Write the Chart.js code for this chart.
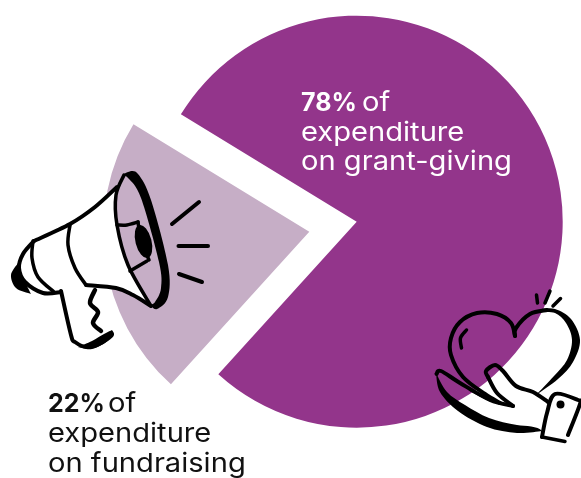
<!DOCTYPE html>
<html>
<head>
<meta charset="utf-8">
<style>
  html, body { margin: 0; padding: 0; background: #fff; }
  canvas { display: block; }
</style>
</head>
<body>
<canvas id="chart" width="581" height="478"></canvas>
<script src="https://cdn.jsdelivr.net/npm/chart.js@4"></script>
<script>
// ---------- data ----------
const categories = ["Fundraising", "Grant-giving"];
const shares = [22, 78];
const sliceColours = ["#C6AEC6", "#93358B"];

// how far the small slice is pulled out of the pie, px
const pullX = -47.4;
const pullY = 10;

// ---------- captions ----------
const FONT = "Inter";
const SIZE = 26;
const PCT_SIZE = 25;
const WIDEN = 1.12;
const captions = [
  { x: 301, y: 111, colour: "#fff", pct: "78%", rest: "of", ofX: 362, lines: ["expenditure", "on grant-giving"], lineGap: 29.5 },
  { x: 48, y: 412, colour: "#111", pct: "22%", rest: "of", ofX: 108, lines: ["expenditure", "on fundraising"], lineGap: 30.2 }
];

// smooth line through a list of [x, y]
function spline(ctx, pts, move = true) {
  if (move) ctx.moveTo(pts[0][0], pts[0][1]);
  for (let i = 0; i < pts.length - 1; i++) {
    const p0 = pts[i - 1] || pts[i], p1 = pts[i], p2 = pts[i + 1], p3 = pts[i + 2] || p2;
    ctx.bezierCurveTo(
      p1[0] + (p2[0] - p0[0]) / 6, p1[1] + (p2[1] - p0[1]) / 6,
      p2[0] - (p3[0] - p1[0]) / 6, p2[1] - (p3[1] - p1[1]) / 6,
      p2[0], p2[1]
    );
  }
}

function line(ctx, pts, width) {
  ctx.beginPath();
  spline(ctx, pts);
  ctx.lineWidth = width;
  ctx.stroke();
}

function blob(ctx, a, b) {
  ctx.beginPath();
  spline(ctx, a);
  spline(ctx, b.slice().reverse(), false);
  ctx.closePath();
  ctx.fill();
}

// ---------- megaphone ----------
function drawMegaphone(ctx) {
  ctx.save();
  ctx.lineCap = "round";
  ctx.lineJoin = "round";
  ctx.strokeStyle = "#000";
  ctx.fillStyle = "#000";

  // white body + handle
  const topEdge = [[117, 187], [95, 207], [70, 224], [34, 241]];
  const backEdge = [[34, 241], [23, 254], [19, 268], [25, 282], [43, 293], [61, 292]];
  const handleEdge = [[61, 291], [71, 335], [75, 342], [87, 347], [103, 342], [111, 333]];
  const gripEdge = [[101, 331], [93, 323], [98, 312], [90, 303], [95, 290]];
  const lowerEdge = [[86, 285], [116, 288], [133, 295], [151, 306]];
  const bellLeft = [[124, 175], [116, 195], [117, 225], [128, 265], [151, 306]];

  ctx.beginPath();
  spline(ctx, topEdge);
  spline(ctx, backEdge, false);
  spline(ctx, handleEdge, false);
  spline(ctx, gripEdge, false);
  spline(ctx, lowerEdge, false);
  spline(ctx, bellLeft.slice().reverse(), false);
  ctx.closePath();
  ctx.fillStyle = "#fff";
  ctx.fill();
  ctx.fillStyle = "#000";

  line(ctx, topEdge, 4);
  line(ctx, backEdge, 4);
  line(ctx, handleEdge, 4);
  line(ctx, gripEdge, 4.5);
  line(ctx, lowerEdge, 4);
  line(ctx, bellLeft, 3.5);

  // inner rings of the body
  line(ctx, [[33, 241], [32, 258], [38, 277], [54, 292]], 3.5);
  line(ctx, [[70, 225], [68, 245], [75, 268], [86, 285]], 3.5);

  // rear knob and heavy foot of the handle
  blob(ctx, [[18, 263], [11, 275], [16, 288], [31, 294]], [[18, 263], [21, 274], [26, 284], [31, 294]]);
  blob(ctx, [[112, 330], [114, 335], [108, 341], [92, 349], [78, 347]], [[112, 330], [104, 334], [92, 341], [78, 347]]);

  // bell, heavy on the right
  blob(ctx,
    [[122, 176], [128, 172], [138, 174], [151, 200], [168, 265], [168, 297], [157, 309], [150, 305]],
    [[122, 176], [128, 178], [141, 198], [159, 262], [161, 288], [155, 302], [150, 305]]);

  // throat of the bell
  line(ctx, [[117, 225], [127, 225], [138, 222]], 3.5);
  line(ctx, [[138, 222], [141, 240], [149, 260]], 3.5);
  line(ctx, [[130, 271], [147, 261]], 3.5);
  ctx.beginPath();
  ctx.ellipse(143.5, 241.5, 8, 17, -0.25, 0, Math.PI * 2);
  ctx.fill();

  // sound lines
  line(ctx, [[172, 224], [199, 202]], 4);
  line(ctx, [[178.5, 246], [208, 246]], 4);
  line(ctx, [[179, 274], [202, 282]], 4);
  ctx.restore();
}

// ---------- heart in a hand ----------
function drawHeartHand(ctx) {
  ctx.save();
  ctx.lineCap = "round";
  ctx.lineJoin = "round";
  ctx.strokeStyle = "#000";
  ctx.fillStyle = "#000";

  // heart
  line(ctx, [[515, 336], [511, 323], [497, 314], [477, 313], [460, 322], [451, 338], [451, 355], [463, 377], [485, 394], [500, 403]], 4);
  line(ctx, [[515, 336], [516, 328], [530, 314], [547, 310]], 4);
  blob(ctx,
    [[540, 309], [555, 309], [571, 319], [580, 340], [573, 362], [558, 379], [536, 395]],
    [[540, 312], [555, 313], [566, 323], [572, 340], [567, 360], [554, 376], [536, 395]]);
  line(ctx, [[466.5, 330], [460.5, 338], [461.5, 348]], 3.5);

  // sparks
  line(ctx, [[536.5, 295], [537.5, 303]], 3.5);
  line(ctx, [[550, 291], [545, 303]], 3.5);
  line(ctx, [[560.5, 298.5], [553, 306]], 3.5);

  // fingers
  line(ctx, [[436.5, 374], [441, 371], [460, 383], [490, 400], [513, 406]], 4);
  blob(ctx,
    [[436, 373], [440, 392], [458, 411], [487, 427], [517, 433], [542, 431]],
    [[436, 373], [447, 392], [465, 405], [489, 418], [517, 425], [542, 426]]);
  line(ctx, [[470, 390], [490, 400], [513, 406]], 2.5);

  // thumb
  line(ctx, [[488, 377], [486, 371], [495, 365], [503, 371], [516, 386], [533, 392], [548, 402]], 4);
  line(ctx, [[488, 377], [497, 393], [513, 406]], 4);

  // cuff
  line(ctx, [[542, 437], [547, 413], [555, 394], [578, 400], [580, 404], [568, 435]], 4);
  line(ctx, [[542, 437], [565, 441.5]], 3.5);
  ctx.beginPath();
  ctx.arc(560.5, 404.5, 4, 0, Math.PI * 2);
  ctx.fill();
  ctx.restore();
}

// ---------- move the small slice out, keeping its radius ----------
const pullSlice = {
  id: "pullSlice",
  afterDatasetsUpdate(chart) {
    const arc = chart.getDatasetMeta(0).data[0];
    arc.x += pullX;
    arc.y += pullY;
  },
};

// ---------- captions and pictures go on top of the pie ----------
const overlay = {
  id: "overlay",
  afterDatasetsDraw(chart) {
    const ctx = chart.ctx;
    drawMegaphone(ctx);
    drawHeartHand(ctx);

    const wideText = (text, x, y) => {
      ctx.save();
      ctx.translate(x, y);
      ctx.scale(WIDEN, 1);
      ctx.fillText(text, 0, 0);
      ctx.restore();
    };

    ctx.save();
    ctx.textBaseline = "alphabetic";
    captions.forEach(c => {
      ctx.fillStyle = c.colour;
      ctx.font = "700 " + PCT_SIZE + "px " + FONT;
      ctx.fillText(c.pct, c.x, c.y);
      ctx.font = "400 " + SIZE + "px " + FONT;
      wideText(c.rest, c.ofX, c.y);
      wideText(c.lines[0], c.x, c.y + c.lineGap);
      wideText(c.lines[1], c.x, c.y + c.lineGap * 2);
    });
    ctx.restore();
  },
};

new Chart(document.getElementById("chart"), {
  type: "pie",
  data: {
    labels: categories,
    datasets: [{
      data: shares,
      backgroundColor: sliceColours,
      borderWidth: 0,
    }],
  },
  options: {
    responsive: false,
    animation: false,
    radius: 206,
    rotation: 222.2,
    layout: { padding: { left: 132.4, bottom: 34.6 } },
    plugins: { legend: { display: false }, tooltip: { enabled: false } },
  },
  plugins: [pullSlice, overlay],
});
</script>
</body>
</html>
